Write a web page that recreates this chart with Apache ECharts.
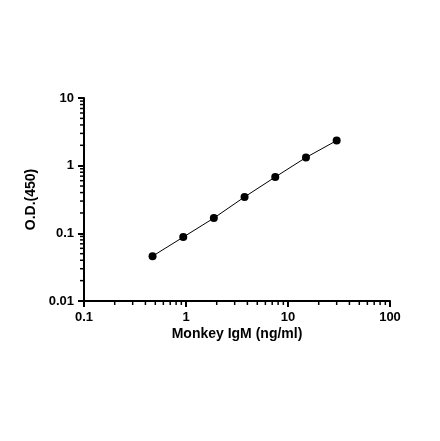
<!DOCTYPE html>
<html><head><meta charset="utf-8">
<script src="https://cdn.jsdelivr.net/npm/echarts@6/dist/echarts.min.js"></script>
<style>html,body{margin:0;padding:0;background:#fff}#c{width:440px;height:441px}</style>
</head><body><div id="c"></div>
<script>
// 数据
const conc = [0.47, 0.94, 1.875, 3.75, 7.5, 15, 30];
const od = [0.046, 0.088, 0.168, 0.345, 0.68, 1.32, 2.35];
const xMinor = [0.2,0.3,0.4,0.5,0.6,0.7,0.8,0.9,2,3,4,5,6,7,8,9,20,30,40,50,60,70,80,90];
const yMinor = [0.02,0.03,0.04,0.05,0.06,0.07,0.08,0.09,0.2,0.3,0.4,0.5,0.6,0.7,0.8,0.9,2,3,4,5,6,7,8,9];

const chart = echarts.init(document.getElementById('c'));
const lab = {color:'#000', fontSize:13, fontWeight:'bold', fontFamily:'Liberation Sans, Arial'};
chart.setOption({
  animation: false,
  grid: {left: 84, right: 50, top: 98, bottom: 140},
  xAxis: {
    type: 'log', min: 0.1, max: 100, logBase: 10,
    name: 'Monkey IgM (ng/ml)', nameLocation: 'middle', nameGap: 26,
    nameTextStyle: {color:'#000', fontSize:14, fontWeight:'bold', fontFamily:'Liberation Sans, Arial'},
    axisLine: {lineStyle: {color:'#000', width: 2}},
    axisTick: {length: 6, lineStyle: {color:'#000', width: 2}},
    axisLabel: Object.assign({margin: 10}, lab),
    splitLine: {show: false}
  },
  yAxis: {
    type: 'log', min: 0.01, max: 10, logBase: 10,
    name: 'O.D.(450)', nameLocation: 'middle', nameGap: 44, nameRotate: 90,
    nameTextStyle: {color:'#000', fontSize:14, fontWeight:'bold', fontFamily:'Liberation Sans, Arial'},
    axisLine: {lineStyle: {color:'#000', width: 2}},
    axisTick: {length: 6, lineStyle: {color:'#000', width: 2}},
    axisLabel: Object.assign({margin: 10, formatter: v => String(v)}, lab),
    splitLine: {show: false}
  },
  series: [
    {
      type: 'line', data: conc.map((x, i) => [x, od[i]]),
      symbol: 'circle', symbolSize: 8,
      lineStyle: {color:'#000', width: 1}, itemStyle: {color:'#000'}
    },
    {
      type: 'custom', silent: true, clip: false,
      data: xMinor.map(v => [v, 0.01]),
      renderItem(params, api) {
        const p = api.coord([api.value(0), 0.01]);
        return {type:'line', shape:{x1:p[0], y1:p[1], x2:p[0], y2:p[1]+4}, style:{stroke:'#000', lineWidth:1.5}};
      }
    },
    {
      type: 'custom', silent: true, clip: false,
      data: yMinor.map(v => [0.1, v]),
      renderItem(params, api) {
        const p = api.coord([0.1, api.value(1)]);
        return {type:'line', shape:{x1:p[0], y1:p[1], x2:p[0]-4, y2:p[1]}, style:{stroke:'#000', lineWidth:1.5}};
      }
    }
  ]
});
</script></body></html>
